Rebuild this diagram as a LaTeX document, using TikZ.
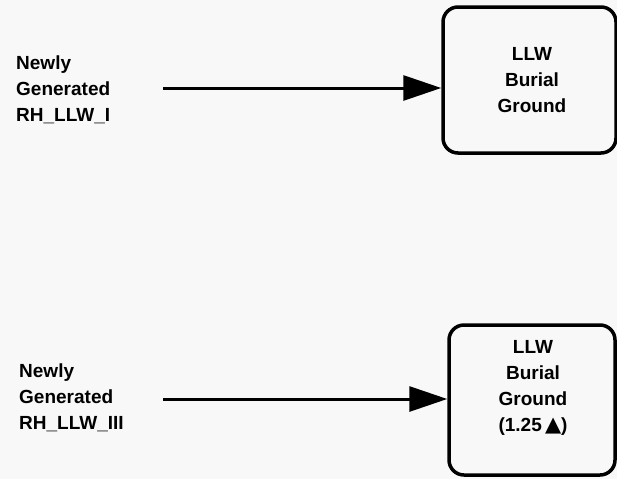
\documentclass[tikz,border=0pt]{standalone}
\usepackage{fontspec}
\setmainfont{Liberation Sans}
\newfontfamily\symfont{DejaVu Sans}
\usetikzlibrary{arrows.meta}
\definecolor{bgc}{RGB}{248,248,248}
\tikzset{
  txt/.style={font=\fontsize{19}{26}\selectfont\bfseries, inner sep=0pt, text=black},
  srclabel/.style={txt, align=left, anchor=west},
  boxlabel/.style={txt, align=center},
  burial/.style={draw=black, line width=3.5pt, rounded corners=15pt, minimum width=#1, inner sep=0pt},
  flow/.style={line width=3pt, -{Triangle[length=38pt,width=25pt]}},
}
\begin{document}
\begin{tikzpicture}[x=1pt,y=-1pt]
\fill[bgc] (0,0) rectangle (617,479);
\useasboundingbox (0,0) rectangle (617,479);

% sources
\node[srclabel] (n1) at (16,90) {Newly\\Generated\\RH\_LLW\_I};
\node[srclabel] (n2) at (19,398) {Newly\\Generated\\RH\_LLW\_III};

% boxes
\node[burial=173pt, minimum height=146pt] (b1) at (529.5,80) {};
\node[boxlabel] (t1) at (532,80.5) {LLW\\Burial\\Ground};

\node[burial=166pt, minimum height=150pt] (b2) at (532,400) {};
\node[boxlabel] (t2) at (533,387.5) {LLW\\Burial\\Ground\\(1.25\,{\symfont\fontsize{21}{21}\selectfont ▲})};

% arrows
\coordinate (s1) at (163,88);
\coordinate (s2) at (163,399);
\draw[flow] (s1) -- (s1 -| b1.west);
\draw[flow] (s2) -- (s2 -| b2.west);
\end{tikzpicture}
\end{document}
